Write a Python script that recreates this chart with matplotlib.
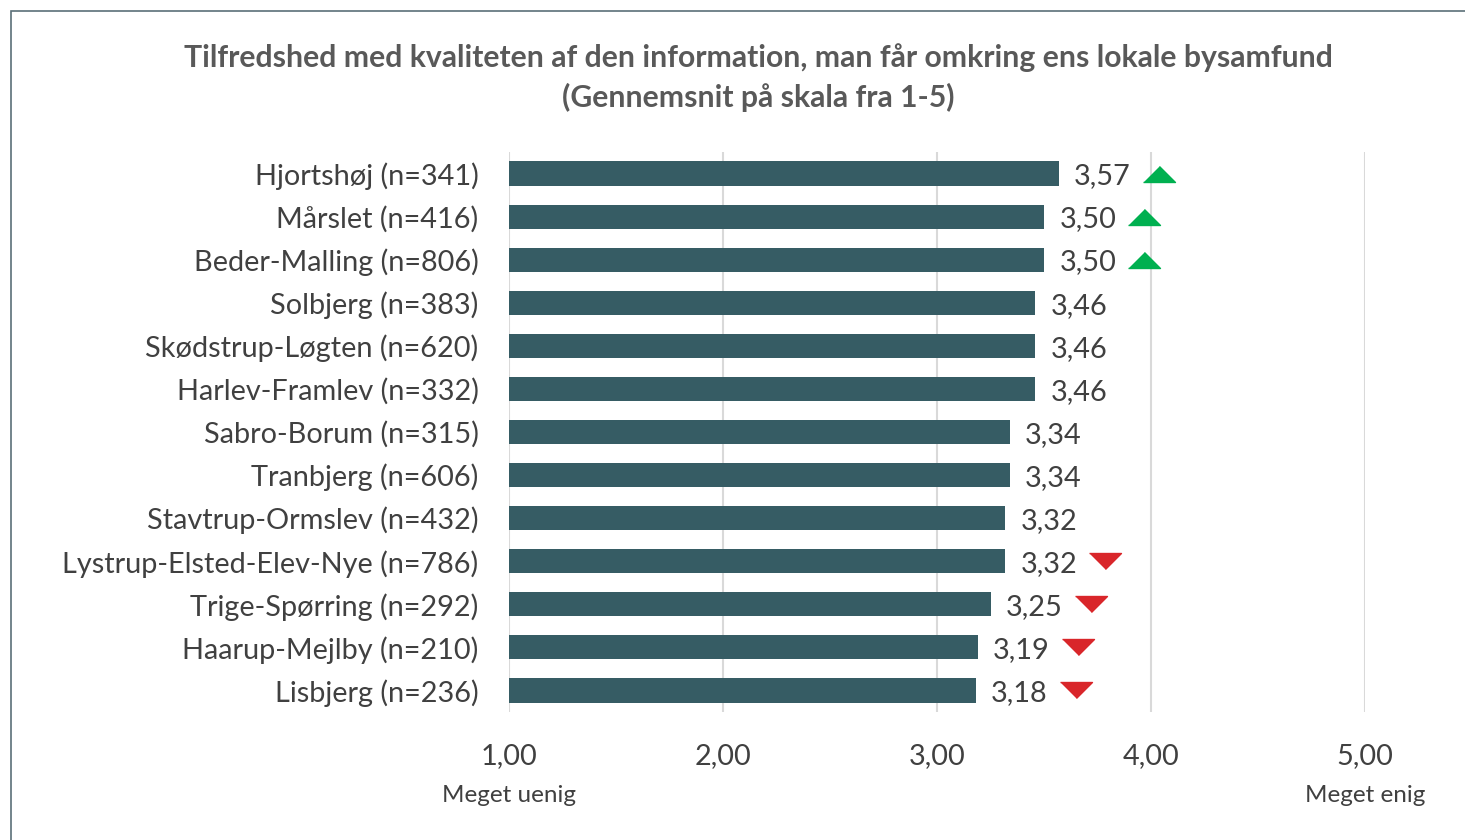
import matplotlib
matplotlib.use("Agg")
import matplotlib.pyplot as plt
from matplotlib.patches import Rectangle

plt.rcParams['font.family'] = ['Lato', 'DejaVu Sans']

categories = ["Hjortshøj (n=341)", "Mårslet (n=416)", "Beder-Malling (n=806)",
              "Solbjerg (n=383)", "Skødstrup-Løgten (n=620)", "Harlev-Framlev (n=332)",
              "Sabro-Borum (n=315)", "Tranbjerg (n=606)", "Stavtrup-Ormslev (n=432)",
              "Lystrup-Elsted-Elev-Nye (n=786)", "Trige-Spørring (n=292)",
              "Haarup-Mejlby (n=210)", "Lisbjerg (n=236)"]
values = [3.57, 3.50, 3.50, 3.46, 3.46, 3.46, 3.34, 3.34, 3.32, 3.32, 3.25, 3.19, 3.18]
trend = ["up", "up", "up", None, None, None, None, None, None, "down", "down", "down", "down"]
xticks = [1, 2, 3, 4, 5]
xtick_labels = ["1,00", "2,00", "3,00", "4,00", "5,00"]
end_labels = ["Meget uenig", "Meget enig"]

title = ("Tilfredshed med kvaliteten af den information, man får omkring ens lokale bysamfund\n"
         "(Gennemsnit på skala fra 1-5)")

bar_color = "#365C64"
text_color = "#404040"
grid_color = "#D9D9D9"
fs = 20.8

fig = plt.figure(figsize=(14.65, 8.4), dpi=100)
ax = fig.add_axes([509/1465, 1-712/840, (1365-509)/1465, (712-152)/840])

ypos = list(range(len(categories)))
ax.barh(ypos, [v - 1 for v in values], left=1, height=0.56, color=bar_color, zorder=3)
ax.set_xlim(1, 5)
ax.set_ylim(len(categories) - 0.5, -0.5)
ax.set_yticks(ypos)
ax.set_yticklabels(categories, fontsize=fs, color=text_color)
ax.set_xticks(xticks)
ax.set_xticklabels(xtick_labels, fontsize=fs, color=text_color)
ax.tick_params(axis='y', length=0, pad=22)
ax.tick_params(axis='x', length=0, pad=22)
for s in ax.spines.values():
    s.set_visible(False)
ax.grid(axis='x', color=grid_color, linewidth=1.5, zorder=0)
ax.set_axisbelow(True)

tri_up = [(-1, -0.5), (1, -0.5), (0, 0.5)]
tri_down = [(-1, 0.5), (1, 0.5), (0, -0.5)]
for y, v, t in zip(ypos, values, trend):
    ax.annotate(f"{v:.2f}".replace('.', ','), xy=(v, y), xytext=(11, -2),
                textcoords='offset points', ha='left', va='center',
                fontsize=fs, color=text_color)
    if t is not None:
        mk = tri_up if t == "up" else tri_down
        col = "#00B050" if t == "up" else "#D9262A"
        dx = 100 / 214
        ax.plot([v + dx], [y], marker=mk, markersize=23, color=col,
                linestyle='none', clip_on=False, zorder=4)

ax.text(1, -(796 - 712) / 560, end_labels[0], transform=ax.get_xaxis_transform(),
        ha='center', va='center', fontsize=17.5, color=text_color)
ax.text(5, -(796 - 712) / 560, end_labels[1], transform=ax.get_xaxis_transform(),
        ha='center', va='center', fontsize=17.5, color=text_color)

fig.text(758/1465, 1-77.5/840, title, ha='center', va='center', fontsize=21.7,
         fontweight='bold', color="#595959", linespacing=1.45)

fig.patches.append(Rectangle((11/1465, -0.1), 1.2, 1 - 11/840 + 0.1,
                             transform=fig.transFigure, fill=False,
                             edgecolor="#5B7078", linewidth=1.2))

fig.savefig("out.png", dpi=100)
